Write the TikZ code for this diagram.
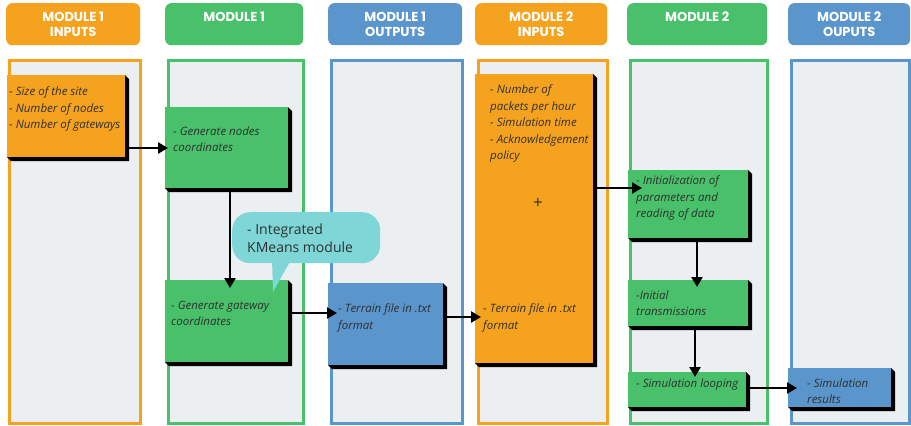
\documentclass[tikz,border=0pt]{standalone}
\usepackage{fontspec}
\setmainfont{Open Sans}
\newfontfamily\hfont{Poppins}
\usetikzlibrary{arrows.meta}
\definecolor{cor}{HTML}{F5A31F}
\definecolor{cgr}{HTML}{48C16A}
\definecolor{cbl}{HTML}{5A95CB}
\definecolor{bggray}{HTML}{ECEFF1}
\definecolor{ccy}{HTML}{7ED6D7}
\definecolor{txtc}{HTML}{303030}
\tikzset{
 colbox/.style={line width=3pt, fill=bggray, inner sep=0pt, anchor=north west},
 hdr/.style={rounded corners=6pt, inner sep=0pt, anchor=north west},
 hdrtxt/.style={text=white, font=\hfont\bfseries\fontsize{13}{15.5}\selectfont, align=center, anchor=north, inner sep=0pt},
 txt/.style={font=\itshape\fontsize{11.5}{16.5}\selectfont, text=txtc, align=left, anchor=north west, inner sep=0pt},
 arr/.style={line width=2.6pt, -{Triangle[length=10pt,width=11pt]}},
}
\newcommand\ColBox[6]{%
 \node[colbox, draw=#6, minimum width={(#4-#2-3)*1pt}, minimum height={(#5-#3-3)*1pt}] (#1) at (#2+1.5,#3+1.5) {};}
\newcommand\HdrBox[6]{%
 \node[hdr, fill=#6, minimum width={(#4-#2)*1pt}, minimum height={(#5-#3)*1pt}] (#1) at (#2,#3) {};}
\newcommand\ShBox[6]{%
 \fill[black] (#4,#3) -- (#4+4,#3+4) -- (#4+4,#5+4) -- (#2+4,#5+4) -- (#2,#5) -- cycle;
 \node[fill=#6, inner sep=0pt, anchor=north west, minimum width={(#4-#2)*1pt}, minimum height={(#5-#3)*1pt}] (#1) at (#2,#3) {};}
\begin{document}
\begin{tikzpicture}[x=1pt,y=-1pt]
\useasboundingbox (0,0) rectangle (911,426);
% headers
\HdrBox{h1}{6}{3}{140}{45}{cor}
\HdrBox{h2}{165}{3}{303}{45}{cgr}
\HdrBox{h3}{328}{3}{462}{45}{cbl}
\HdrBox{h4}{475}{3}{607}{45}{cor}
\HdrBox{h5}{627}{3}{767}{45}{cgr}
\HdrBox{h6}{788}{3}{910}{45}{cbl}
\node[hdrtxt] (ht1) at (h1.north |- 0,11.5) {MODULE 1\\INPUTS};
\node[hdrtxt] (ht2) at (h2.north |- 0,11.5) {MODULE 1};
\node[hdrtxt] (ht3) at (h3.north |- 0,11.5) {MODULE 1\\OUTPUTS};
\node[hdrtxt] (ht4) at (h4.north |- 0,11.5) {MODULE 2\\INPUTS};
\node[hdrtxt] (ht5) at (h5.north |- 0,11.5) {MODULE 2};
\node[hdrtxt] (ht6) at (h6.north |- 0,11.5) {MODULE 2\\OUPUTS};
% columns
\ColBox{c1}{6}{57}{140}{423}{cor}
\ColBox{c2}{165}{57}{303}{423}{cgr}
\ColBox{c3}{328}{57}{462}{423}{cbl}
\ColBox{c4}{475}{57}{607}{423}{cor}
\ColBox{c5}{627}{57}{767}{423}{cgr}
\ColBox{c6}{788}{57}{909}{423}{cbl}
% inner boxes
\ShBox{b1}{7}{75}{125}{157}{cor}
\ShBox{g1}{165}{107}{288}{188}{cgr}
\ShBox{g2}{165}{280}{288}{362}{cgr}
\ShBox{b3}{328}{283}{443}{365}{cbl}
\ShBox{o4}{475}{74}{593}{363}{cor}
\ShBox{g5a}{628}{170}{748}{238}{cgr}
\ShBox{g5b}{628}{280}{748}{326}{cgr}
\ShBox{g5c}{628}{372}{746}{407}{cgr}
\ShBox{b6}{788}{368}{891}{407}{cbl}
% texts
\node[txt] (t1) at (9,86.5) {- Size of the site\\- Number of nodes\\- Number of gateways};
\node[txt] (t2) at (173,126.5) {- Generate nodes\\coordinates};
\node[txt] (t3) at (171,300.5) {- Generate gateway\\coordinates};
\node[txt] (t4) at (338,303.5) {- Terrain file in .txt\\format};
\node[txt] (t5) at (490,84.5) {- Number of\\packets per hour\\- Simulation time\\- Acknowledgement\\policy};
\node[font=\fontsize{17}{17}\selectfont, text=txtc, inner sep=0pt] (plus) at (538,203) {+};
\node[txt] (t6) at (483,303.5) {- Terrain file in .txt\\format};
\node[txt] (t7) at (636,175.5) {- Initialization of\\parameters and\\reading of data};
\node[txt] (t8) at (636,290.5) {-Initial\\transmissions};
\node[txt] (t9) at (636,378.5) {- Simulation looping};
\node[txt] (t10) at (807,378.5) {- Simulation\\results};
% arrows
\draw[arr, shorten >=-3pt] (b1.east |- 0,148) -- (g1.west |- 0,148);
\draw[arr, shorten >=-8pt] (g1.south -| 230,0) -- (g2.north -| 230,0);
\draw[arr, shorten >=-9pt] (g2.east |- 0,313) -- (b3.west |- 0,313);
\draw[arr, shorten >=-6pt] (b3.east |- 0,317) -- (o4.west |- 0,317);
\draw[arr, shorten >=-14pt] (o4.east |- 0,188) -- (g5a.west |- 0,188);
\draw[arr, shorten >=-7pt] (g5a.south -| 697,0) -- (g5b.north -| 697,0);
\draw[arr, shorten >=-5pt] (g5b.south -| 695,0) -- (g5c.north -| 695,0);
\draw[arr, shorten >=-9pt] (g5c.east |- 0,388) -- (b6.west |- 0,388);
% callout
\node[fill=ccy, rounded corners=18pt, inner sep=0pt, anchor=north west, minimum width=148pt, minimum height=51pt] (call) at (232,212) {};
\fill[ccy] (272,258) -- (292,258) -- (273,292) -- cycle;
\node[font=\fontsize{14}{18}\selectfont, text=txtc, align=left, anchor=north west, inner sep=0pt] (calltxt) at (247,224) {- Integrated\\KMeans module};
\end{tikzpicture}
\end{document}
